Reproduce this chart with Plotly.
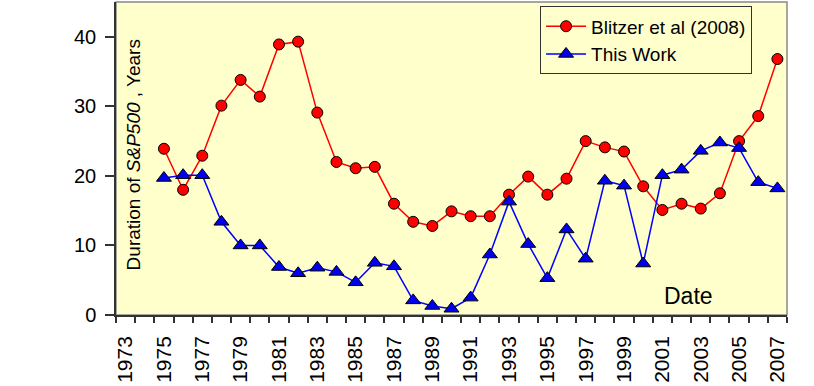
import plotly.graph_objects as go

years = list(range(1975, 2008))
blitzer = [23.9, 18.0, 22.9, 30.1, 33.8, 31.4, 38.9, 39.3, 29.1, 22.0, 21.1, 21.3,
           16.0, 13.4, 12.8, 14.9, 14.2, 14.2, 17.3, 19.9, 17.3, 19.6, 25.0, 24.1,
           23.5, 18.5, 15.1, 16.0, 15.3, 17.5, 25.0, 28.6, 36.8]
this_work = [19.7, 20.1, 20.1, 13.4, 10.0, 10.0, 6.9, 6.0, 6.8, 6.2, 4.7, 7.5,
             7.0, 2.1, 1.3, 0.9, 2.5, 8.7, 16.3, 10.2, 5.3, 12.3, 8.1, 19.3,
             18.6, 7.4, 20.1, 20.9, 23.6, 24.8, 24.0, 19.1, 18.2]
tick_years = list(range(1973, 2008, 2))
y_ticks = [0, 10, 20, 30, 40]

FONT = "Liberation Sans, Arial, sans-serif"

fig = go.Figure()
fig.add_trace(go.Scatter(
    x=years, y=blitzer, mode="lines+markers", name="Blitzer et al (2008)",
    line=dict(color="#FF0000", width=1.5),
    marker=dict(symbol="circle", size=11, color="#FF0000",
                line=dict(color="#000000", width=1))))
fig.add_trace(go.Scatter(
    x=years, y=this_work, mode="lines+markers", name="This Work",
    line=dict(color="#0000FF", width=1.5),
    marker=dict(symbol="triangle-up", size=13, color="#0000EE",
                line=dict(color="#000000", width=1))))

fig.update_layout(
    width=814, height=386,
    margin=dict(l=116, r=27, t=2, b=71),
    paper_bgcolor="white", plot_bgcolor="#FFFFCC",
    font=dict(family=FONT, color="black"),
    showlegend=True,
    legend=dict(x=0.632, y=0.986, xanchor="left", yanchor="top",
                bgcolor="rgba(0,0,0,0)", bordercolor="#333333", borderwidth=1,
                itemwidth=40,
                font=dict(size=19, family=FONT)),
    xaxis=dict(range=[1972.5, 2007.5], tickmode="array", tickvals=tick_years,
               ticktext=[str(y) for y in tick_years], tickangle=-90,
               ticks="outside", ticklen=6, tickcolor="rgba(0,0,0,0)",
               tickfont=dict(size=21), showgrid=False, zeroline=False,
               showline=True, linecolor="#333333", linewidth=1.5,
               ticklabelstandoff=5,
               minor=dict(tickmode="array",
                          tickvals=[y + 0.5 for y in range(1972, 2008)],
                          ticks="outside", ticklen=6, tickcolor="#333333",
                          tickwidth=1.5, showgrid=False)),
    yaxis=dict(range=[0, 45], tickmode="array", tickvals=y_ticks,
               ticks="outside", ticklen=9, tickcolor="#333333", tickwidth=1.5,
               tickfont=dict(size=20), showgrid=False, zeroline=False,
               showline=True, linecolor="#333333", linewidth=1.5,
               ticklabelstandoff=5),
)

# plot frame (top/right gray)
fig.add_shape(type="rect", xref="paper", yref="paper", x0=0, x1=1, y0=0, y1=1,
              line=dict(color="#888888", width=1.5), layer="below")

fig.add_annotation(xref="paper", yref="paper", x=0.0253, y=0.513,
                   text="Duration of <i>S&amp;P500</i> , Years", textangle=-90,
                   showarrow=False, xanchor="center", yanchor="middle",
                   font=dict(size=19, family=FONT))
fig.add_annotation(xref="paper", yref="paper", x=0.8525, y=0.06,
                   text="Date", showarrow=False, xanchor="center", yanchor="middle",
                   font=dict(size=23, family=FONT))

fig.write_html("out.html")
